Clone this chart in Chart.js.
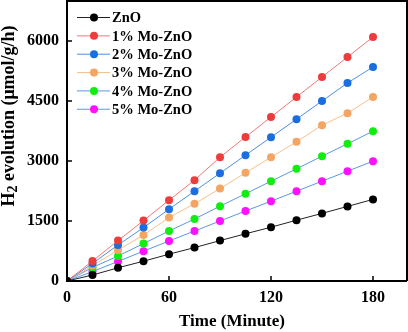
<!DOCTYPE html>
<html>
<head>
<meta charset="utf-8">
<script src="https://cdn.jsdelivr.net/npm/chart.js@4/dist/chart.umd.min.js"></script>
<style>
  html, body { margin: 0; padding: 0; background: #fff; }
</style>
</head>
<body>
<canvas id="c" width="408" height="332"></canvas>
<script>
// Temps (min) et H2 produit (µmol/g/h)
const times = [0, 15, 30, 45, 60, 75, 90, 105, 120, 135, 150, 165, 180];
const zno  = [0, 150, 330, 495, 670, 835, 1010, 1180, 1345, 1520, 1690, 1865, 2040];
const mo1  = [0, 500, 1010, 1510, 2020, 2520, 3095, 3600, 4100, 4600, 5100, 5600, 6100];
const mo2  = [0, 440, 900, 1335, 1795, 2245, 2695, 3145, 3595, 4045, 4500, 4950, 5350];
const mo3  = [0, 385, 775, 1150, 1585, 1930, 2310, 2705, 3095, 3480, 3895, 4195, 4600];
const mo4  = [0, 340, 625, 935, 1250, 1550, 1870, 2180, 2495, 2805, 3120, 3430, 3745];
const mo5  = [0, 235, 490, 745, 1000, 1250, 1500, 1750, 1995, 2245, 2495, 2745, 2995];

const names = ['ZnO', '1% Mo-ZnO', '2% Mo-ZnO', '3% Mo-ZnO', '4% Mo-ZnO', '5% Mo-ZnO'];
const series = [zno, mo1, mo2, mo3, mo4, mo5];
const xTicks = [0, 60, 120, 180];
const yTicks = [0, 1500, 3000, 4500, 6000];

const pointCols = ['#000000', '#ee3b3b', '#1a6ee0', '#f4a562', '#10ee10', '#ff10ff'];
const lineCols  = ['#222222', '#f27878', '#4d8fe6', '#f7bf8c', '#5b97e2', '#5b97e2'];
const SERIF = '"Liberation Serif", "Times New Roman", serif';
const tickFont = { family: SERIF, size: 16, weight: 'bold' };

// légende et titres
const deco = {
  id: 'deco',
  afterDraw(chart) {
    const ctx = chart.ctx;
    ctx.save();
    ctx.font = 'bold 14.5px ' + SERIF;
    ctx.textBaseline = 'middle';
    ctx.textAlign = 'left';
    chart.data.datasets.forEach((ds, i) => {
      const y = 17.5 + i * 18.35;
      ctx.strokeStyle = ds.borderColor;
      ctx.lineWidth = 1;
      ctx.beginPath(); ctx.moveTo(77, y); ctx.lineTo(110, y); ctx.stroke();
      ctx.fillStyle = ds.pointBackgroundColor;
      ctx.beginPath(); ctx.arc(94, y, 4, 0, Math.PI * 2); ctx.fill();
      ctx.fillStyle = '#000';
      ctx.fillText(ds.label, 112, y + 1);
    });

    ctx.font = 'bold 17px ' + SERIF;
    ctx.textAlign = 'center';
    ctx.fillText('Time (Minute)', 232, 322);

    ctx.translate(9, 116);
    ctx.rotate(-Math.PI / 2);
    const big = 'bold 18px ' + SERIF, small = 'bold 14px ' + SERIF;
    const rest = ' evolution (μmol/g/h)';
    ctx.font = big; const wH = ctx.measureText('H').width, wR = ctx.measureText(rest).width;
    ctx.font = small; const w2 = ctx.measureText('2').width;
    const x0 = -(wH + w2 + wR) / 2;
    ctx.textAlign = 'left';
    ctx.font = big; ctx.fillText('H', x0, 0);
    ctx.font = small; ctx.fillText('2', x0 + wH, 4);
    ctx.font = big; ctx.fillText(rest, x0 + wH + w2, 0);
    ctx.restore();
  }
};

const frameBorder = { display: true, width: 2, color: '#000' };
const innerTicks = { display: true, drawOnChartArea: false, drawTicks: true, tickLength: -5, tickWidth: 1.5, tickColor: '#000', color: '#000', lineWidth: 0 };
const noTicks = { display: true, drawOnChartArea: false, drawTicks: false, lineWidth: 0 };

function fitSize(w, h) {
  return s => {
    if (w !== null) s.width = w;
    if (h !== null) s.height = h;
    s.paddingTop = s.paddingBottom = s.paddingLeft = s.paddingRight = 0;
  };
}

new Chart(document.getElementById('c'), {
  type: 'line',
  data: {
    datasets: series.map((s, i) => ({
      label: names[i],
      data: times.map((t, k) => ({ x: t, y: s[k] })),
      borderColor: lineCols[i],
      borderWidth: 1,
      pointBackgroundColor: pointCols[i],
      pointBorderColor: pointCols[i],
      pointRadius: 4,
      pointBorderWidth: 0,
      tension: 0
    }))
  },
  options: {
    responsive: false,
    animation: false,
    devicePixelRatio: 1,
    layout: { autoPadding: false, padding: { top: 1, right: 1, left: 0, bottom: 0 } },
    plugins: { legend: { display: false }, tooltip: { enabled: false } },
    scales: {
      x: {
        type: 'linear', min: 0, max: 200,
        afterBuildTicks: s => { s.ticks = xTicks.map(v => ({ value: v })); },
        afterFit: fitSize(null, 51),
        grid: innerTicks, border: frameBorder,
        ticks: { padding: 12, color: '#000', callback: v => String(v), font: tickFont }
      },
      y: {
        min: 0, max: 7000,
        afterBuildTicks: s => { s.ticks = yTicks.map(v => ({ value: v })); },
        afterFit: fitSize(67, null),
        grid: innerTicks, border: frameBorder,
        ticks: { padding: 13, color: '#000', callback: v => String(v), font: tickFont }
      },
      xTop: {
        type: 'linear', position: 'top', min: 0, max: 200,
        afterFit: fitSize(null, 0),
        grid: noTicks, border: frameBorder, ticks: { display: false }
      },
      yRight: {
        type: 'linear', position: 'right', min: 0, max: 7000,
        afterFit: fitSize(0, null),
        grid: noTicks, border: frameBorder, ticks: { display: false }
      }
    }
  },
  plugins: [deco]
});
</script>
</body>
</html>
